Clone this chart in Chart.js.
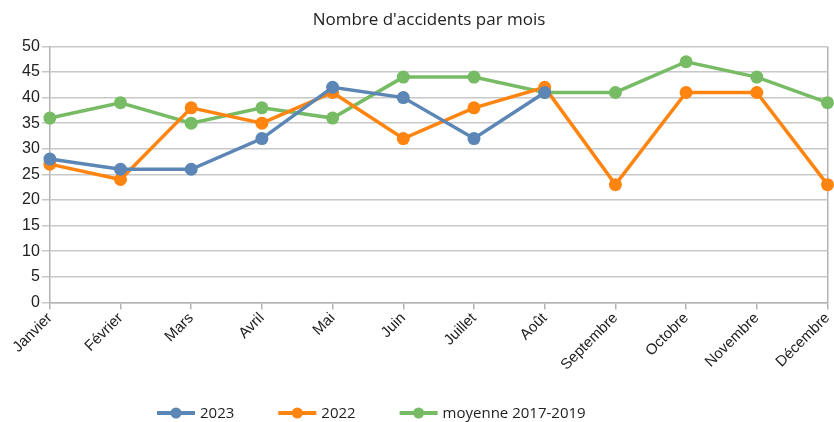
<!DOCTYPE html>
<html>
<head>
<meta charset="utf-8">
<script src="https://cdn.jsdelivr.net/npm/chart.js@4"></script>
<style>
  html, body { margin: 0; padding: 0; background: #fff; }
  #wrap { width: 834px; height: 422px; }
</style>
</head>
<body>
<div id="wrap"><canvas id="accChart" width="834" height="422"></canvas></div>
<script>
const months = ['Janvier', 'Février', 'Mars', 'Avril', 'Mai', 'Juin', 'Juillet', 'Août', 'Septembre', 'Octobre', 'Novembre', 'Décembre'];
const y2023 = [28, 26, 26, 32, 42, 40, 32, 41, null, null, null, null];
const y2022 = [27, 24, 38, 35, 41, 32, 38, 42, 23, 41, 41, 23];
const moyenne = [36, 39, 35, 38, 36, 44, 44, 41, 41, 47, 44, 39];

const blue = '#5b86b5';
const orange = '#ff8410';
const green = '#77bc65';

function makeSet(label, data, color) {
    return {
        label: label,
        data: data,
        borderColor: color,
        backgroundColor: color,
        borderWidth: 3.5,
        pointRadius: 6.5,
        pointHoverRadius: 6.5,
        pointBorderWidth: 0,
        pointStyle: 'circle',
        tension: 0,
        spanGaps: false
    };
}

// legend drawn by hand: line with a dot, then the label
const bottomLegend = {
    id: 'bottomLegend',
    afterDraw(ch) {
        const g = ch.ctx;
        const y = 413;
        let x = 157;
        g.save();
        g.font = '15px "Open Sans"';
        g.textBaseline = 'middle';
        ch.data.datasets.forEach(ds => {
            g.strokeStyle = ds.borderColor;
            g.lineWidth = 4;
            g.beginPath();
            g.moveTo(x, y);
            g.lineTo(x + 38, y);
            g.stroke();
            g.fillStyle = ds.borderColor;
            g.beginPath();
            g.arc(x + 19, y, 5.5, 0, Math.PI * 2);
            g.fill();
            g.fillStyle = '#222';
            g.fillText(ds.label, x + 43, y + 1);
            x += 43 + g.measureText(ds.label).width + 44;
        });
        g.restore();
    }
};

const ctx = document.getElementById('accChart').getContext('2d');
const chart = new Chart(ctx, {
    type: 'line',
    data: {
        labels: months,
        datasets: [
            makeSet('2023', y2023, blue),
            makeSet('2022', y2022, orange),
            makeSet('moyenne 2017-2019', moyenne, green)
        ]
    },
    options: {
        responsive: false,
        animation: false,
        layout: { padding: { left: 20, right: -4, top: 0, bottom: 48 } },
        plugins: {
            title: {
                display: true,
                text: "Nombre d'accidents par mois",
                color: '#222',
                font: { family: 'Open Sans', size: 17, weight: 'normal' },
                padding: { top: 10, bottom: 16 }
            },
            legend: { display: false },
            tooltip: { enabled: false }
        },
        scales: {
            x: {
                offset: false,
                afterFit: scale => { scale.paddingRight = -4; },
                grid: {
                    drawOnChartArea: true,
                    color: c => (c.index === months.length - 1 ? '#b3b3b3' : 'rgba(0,0,0,0)'),
                    tickColor: '#b3b3b3',
                    tickLength: 7,
                    lineWidth: 1.5
                },
                border: { color: '#b3b3b3', width: 1.5 },
                ticks: {
                    minRotation: 45,
                    maxRotation: 45,
                    autoSkip: false,
                    color: '#222',
                    font: { family: 'Liberation Sans', size: 15 },
                    padding: 0
                }
            },
            y: {
                min: 0,
                max: 50,
                grid: {
                    color: '#c8c8c8',
                    lineWidth: 1.5,
                    tickLength: 8,
                    tickColor: '#c8c8c8'
                },
                border: { color: '#b3b3b3', width: 1.5 },
                ticks: {
                    stepSize: 5,
                    color: '#222',
                    font: { family: 'Liberation Sans', size: 16 },
                    padding: 2
                }
            }
        }
    },
    plugins: [bottomLegend]
});
</script>
</body>
</html>
